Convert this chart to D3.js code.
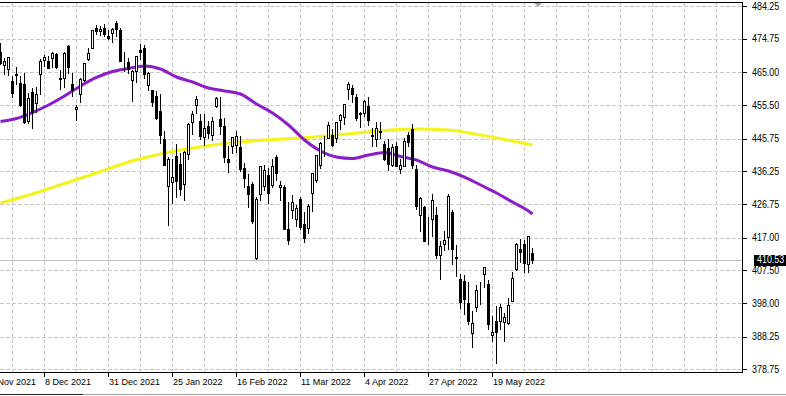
<!DOCTYPE html>
<html>
<head>
<meta charset="utf-8">
<script src="https://cdn.jsdelivr.net/npm/d3@7"></script>
<style>
  html, body { margin: 0; padding: 0; background: #fff; }
  svg { display: block; }
</style>
</head>
<body>
<svg width="786" height="396"></svg>
<script>
// daily bars, 22 Nov 2021 .. 3 Jun 2022
var openP = [470.89,467.22,466.06,462.34,464.07,462.00,
  461.64,450.73,459.17,456.13,464.41,468.70,468.15,469.23,470.19,463.09,463.42,472.57,461.55,454.48,458.61,462.79,468.75,472.06,477.72,476.98,477.93,475.64,
  476.30,479.22,477.16,467.89,467.95,462.70,465.23,471.59,472.19,461.19,459.74,458.13,453.75,445.56,432.03,433.06,440.72,438.26,432.68,441.24,
  450.68,455.50,450.95,446.35,449.51,446.73,455.22,451.34,449.41,439.92,443.73,443.93,443.22,437.33,431.89,432.66,411.02,429.61,432.04,
  435.04,432.37,440.47,431.75,431.55,419.62,425.14,422.52,428.12,420.89,419.77,429.89,433.59,438.00,444.34,445.86,446.91,445.94,451.16,452.06,460.02,460.34,457.89,
  453.31,453.13,455.22,446.89,445.59,447.97,444.11,443.08,438.03,443.55,436.81,437.86,446.92,448.54,436.91,423.67,425.83,417.24,422.29,423.59,
  412.07,415.01,417.08,424.55,411.10,405.10,404.49,398.07,389.37,396.71,399.98,406.53,403.50,388.62,392.83,392.83,392.56,392.31,398.67,407.91,413.55,
  415.17,409.42,412.40];
var highP = [473.54,469.10,469.57,463.90,466.56,464.03,
  464.67,459.07,460.30,460.79,468.88,470.00,469.63,470.90,470.56,465.74,470.86,472.87,464.74,455.40,463.21,467.81,472.19,477.31,478.81,478.56,479.00,477.21,
  477.85,479.98,477.98,470.82,469.20,465.74,469.85,473.20,472.88,465.09,459.96,459.61,458.74,448.06,440.38,439.72,444.04,441.59,442.00,450.28,
  453.63,458.12,452.97,452.78,450.99,451.92,457.88,457.71,451.61,443.50,446.28,448.06,446.57,438.66,435.50,433.26,428.76,437.84,438.20,
  437.17,439.72,441.11,433.37,432.30,427.21,429.51,426.43,428.77,424.55,426.84,435.68,441.07,444.86,446.46,450.58,448.49,450.50,452.98,455.91,462.07,461.20,458.76,
  453.46,456.91,457.83,448.93,450.69,450.63,445.00,445.75,444.11,444.73,439.75,445.80,447.57,450.01,438.08,428.69,426.04,422.92,429.64,425.87,
  415.92,418.93,429.66,425.00,414.80,406.41,406.08,404.04,395.80,403.18,403.97,408.57,404.80,394.14,397.03,397.73,395.15,399.45,407.04,415.38,416.46,
  416.24,417.44,414.04];
var lowP = [467.35,464.45,464.17,457.77,461.73,455.30,
  450.29,450.31,448.92,453.56,458.65,466.83,466.14,466.51,466.27,460.25,460.74,464.80,458.06,451.14,456.31,462.58,468.64,472.01,476.06,475.92,475.67,474.69,
  473.85,475.58,468.28,465.43,464.65,456.60,462.05,468.94,463.44,459.90,455.31,451.46,444.50,437.95,420.76,427.15,428.86,429.45,427.82,439.81,
  446.94,453.05,445.71,443.83,445.85,445.22,455.01,447.20,438.94,436.07,441.52,441.94,436.42,431.82,425.86,421.35,410.64,427.86,430.70,
  427.11,431.57,433.80,427.88,419.36,415.12,422.82,420.44,419.53,415.79,418.42,424.80,433.19,437.22,440.68,445.86,443.71,444.76,448.43,450.06,457.18,456.47,451.16,
  449.14,452.26,449.82,443.47,443.53,445.94,439.39,436.65,437.84,437.68,435.61,437.68,443.48,437.10,425.44,418.84,416.07,415.01,417.60,411.21,
  405.02,413.36,413.71,409.44,405.73,396.50,394.82,391.96,385.15,395.61,397.60,402.58,390.55,387.11,380.54,390.38,386.96,391.89,398.45,407.70,410.03,
  406.93,407.04,409.51];
var closeP = [467.57,468.19,469.44,458.97,464.60,455.56,
  450.50,457.40,453.42,458.79,468.28,469.52,466.35,470.74,466.57,463.36,470.60,466.45,459.87,454.98,463.06,467.69,470.60,477.26,476.87,477.48,476.16,474.96,
  477.71,477.55,468.38,467.94,466.09,465.51,469.75,471.02,464.53,464.72,456.49,451.75,446.75,437.98,439.84,434.47,433.38,431.24,441.95,449.91,
  452.95,457.35,446.60,448.70,447.26,450.94,457.54,449.32,440.46,439.02,446.10,446.60,437.06,434.23,429.57,421.95,428.30,437.75,436.63,
  429.98,437.89,435.71,432.17,419.43,416.25,427.41,425.48,420.07,417.00,426.17,435.62,441.07,444.52,444.39,449.59,443.80,450.49,452.69,455.91,461.55,458.70,451.64,
  452.92,456.80,451.03,446.52,448.77,447.57,439.92,438.29,443.31,437.79,437.97,445.04,444.71,438.06,426.04,428.51,416.10,417.27,427.81,412.00,
  414.48,416.38,429.06,413.81,411.34,398.17,399.09,392.75,392.34,401.72,400.09,408.32,391.86,389.46,389.63,396.92,393.89,397.37,405.31,415.26,412.93,
  409.59,417.39,410.53];

// moving averages, one value every 4 bars
var maBars = [0,4,8,12,16,20,24,28,32,36,40,44,48,52,56,60,64,68,72,76,80,84,88,92,96,100,104,108,112,116,120,124,128,132,133];
var maFast = [450.71,451.58,453.32,455.50,458.11,461.02,463.49,465.23,466.10,466.83,465.96,463.63,462.18,460.44,459.57,458.70,455.79,453.18,449.69,445.34,442.14,440.40,439.96,440.98,441.71,440.55,439.53,437.50,436.33,434.59,432.27,429.95,427.33,424.72,423.85];
var maSlowBars = [0,8,16,24,32,40,48,56,64,72,80,88,96,104,112,120,128,133];
var maSlow = [427.04,429.66,432.71,435.75,438.95,441.27,443.01,444.33,445.14,445.69,446.35,447.23,448.10,448.53,448.24,446.79,445.05,443.89];

var priceTicks = [484.25,474.75,465.00,455.50,445.75,436.25,426.75,417.00,407.50,398.00,388.25,378.75];
var dateTicks = ["15 Nov 2021","8 Dec 2021","31 Dec 2021","25 Jan 2022","16 Feb 2022","11 Mar 2022","4 Apr 2022","27 Apr 2022","19 May 2022"];
var dateTickBars = [-4,11,27,43,59,75,91,107,123];
var lastPrice = 410.53;

var svg = d3.select("svg");
var plotW = 742, plotTop = 3, plotBottom = 372;
var narrow = 0.89;   // price labels use a condensed face

var bars = d3.range(openP.length).map(function(i){
  return {i: i, o: openP[i], h: highP[i], l: lowP[i], c: closeP[i]};
});

var x = d3.scaleLinear().domain([-0.5, 185]).range([0, plotW]);
var y = d3.scaleLinear().domain([378.75, 484.25]).range([369.3, 6]);
function px(i){ return Math.round(x(i) - 2) + 0.5; }   // pixel column of bar centre
function py(v){ return Math.round(y(v)) + 0.5; }

svg.append("defs").append("clipPath").attr("id", "plotclip")
  .append("rect").attr("x", 0).attr("y", plotTop).attr("width", plotW).attr("height", plotBottom - plotTop);

// grid
var grid = svg.append("g").attr("stroke", "#c8c8c8").attr("stroke-dasharray", "4,2").attr("shape-rendering", "crispEdges");
grid.selectAll("line.h").data(priceTicks).enter().append("line")
  .attr("x1", 0).attr("x2", plotW).attr("y1", function(d){ return py(d); }).attr("y2", function(d){ return py(d); });
grid.selectAll("line.v").data(d3.range(3, 185, 8)).enter().append("line")
  .attr("y1", plotTop).attr("y2", plotBottom).attr("x1", function(d){ return px(d); }).attr("x2", function(d){ return px(d); });

// last price line
svg.append("line").attr("x1", 0).attr("x2", plotW)
  .attr("y1", py(lastPrice)).attr("y2", py(lastPrice))
  .attr("stroke", "#c0c0c0").attr("shape-rendering", "crispEdges");

var plot = svg.append("g").attr("clip-path", "url(#plotclip)");

// moving averages
var line = d3.line().x(function(d){ return px(d[0]); }).y(function(d){ return y(d[1]); }).curve(d3.curveMonotoneX);
plot.append("path").datum(d3.zip(maSlowBars, maSlow))
  .attr("d", line).attr("fill", "none").attr("stroke", "#f4f41c").attr("stroke-width", 3);
plot.append("path").datum(d3.zip(maBars, maFast))
  .attr("d", line).attr("fill", "none").attr("stroke", "#8c1ec8").attr("stroke-width", 3);

// candles
var candles = plot.selectAll("g.candle").data(bars).enter().append("g").attr("shape-rendering", "crispEdges");
candles.append("line")
  .attr("x1", function(d){ return px(d.i); }).attr("x2", function(d){ return px(d.i); })
  .attr("y1", function(d){ return Math.round(y(d.h)); }).attr("y2", function(d){ return Math.round(y(d.l)) + 1; })
  .attr("stroke", "#000");
candles.append("rect")
  .attr("x", function(d){ return px(d.i) - 1; })
  .attr("width", 2)
  .attr("y", function(d){ return py(Math.max(d.o, d.c)); })
  .attr("height", function(d){ return Math.max(0, py(Math.min(d.o, d.c)) - py(Math.max(d.o, d.c))); })
  .attr("fill", function(d){ return d.c >= d.o ? "#fff" : "#000"; })
  .attr("stroke", "#000");

// frame
svg.append("g").attr("stroke", "#000").attr("shape-rendering", "crispEdges").call(function(g){
  g.append("line").attr("x1", 0).attr("x2", plotW + 0.5).attr("y1", 2.5).attr("y2", 2.5);
  g.append("line").attr("x1", plotW + 0.5).attr("x2", plotW + 0.5).attr("y1", 2.5).attr("y2", plotBottom + 0.5);
  g.append("line").attr("x1", 0).attr("x2", plotW + 0.5).attr("y1", plotBottom + 0.5).attr("y2", plotBottom + 0.5);
});

// price axis
var yAxis = svg.append("g");
yAxis.selectAll("line").data(priceTicks).enter().append("line")
  .attr("x1", plotW).attr("x2", plotW + 5).attr("y1", function(d){ return py(d); }).attr("y2", function(d){ return py(d); })
  .attr("stroke", "#000").attr("shape-rendering", "crispEdges");
yAxis.selectAll("text").data(priceTicks).enter().append("text")
  .attr("transform", function(d){ return "translate(752," + (y(d) + 3.6) + ") scale(" + narrow + ",1)"; })
  .style("font-family", "'Liberation Sans', Arial, sans-serif")
  .style("font-size", "10px").style("fill", "#000")
  .text(function(d){ return d.toFixed(2); });

// last price tag
svg.append("rect").attr("x", 754).attr("y", Math.round(y(lastPrice)) - 5).attr("width", 32).attr("height", 11).attr("fill", "#000");
svg.append("text").attr("transform", "translate(757," + (y(lastPrice) + 3.6) + ") scale(" + narrow + ",1)")
  .style("font-family", "'Liberation Sans', Arial, sans-serif")
  .style("font-size", "10px").style("fill", "#fff").text(lastPrice.toFixed(2));

// time axis
var xAxis = svg.append("g");
xAxis.selectAll("line").data(dateTickBars).enter().append("line")
  .attr("x1", function(d){ return px(d); }).attr("x2", function(d){ return px(d); })
  .attr("y1", plotBottom).attr("y2", plotBottom + 5)
  .attr("stroke", "#000").attr("shape-rendering", "crispEdges");
xAxis.selectAll("text").data(dateTicks).enter().append("text")
  .attr("x", function(d, i){ return px(dateTickBars[i]) + 0.5; })
  .attr("y", 385)
  .style("font-family", "'Liberation Sans', Arial, sans-serif")
  .style("font-size", "9px").style("fill", "#000")
  .text(function(d){ return d; });

// shift marker and bottom strip
svg.append("path").attr("d", "M534,3 L542,3 L538,7 Z").attr("fill", "#a8a8a8");
svg.append("line").attr("x1", 0).attr("x2", 786).attr("y1", 394.5).attr("y2", 394.5).attr("stroke", "#a0a0a0");
svg.append("line").attr("x1", 0).attr("x2", 83).attr("y1", 394.5).attr("y2", 394.5).attr("stroke", "#202020");
</script>
</body>
</html>
